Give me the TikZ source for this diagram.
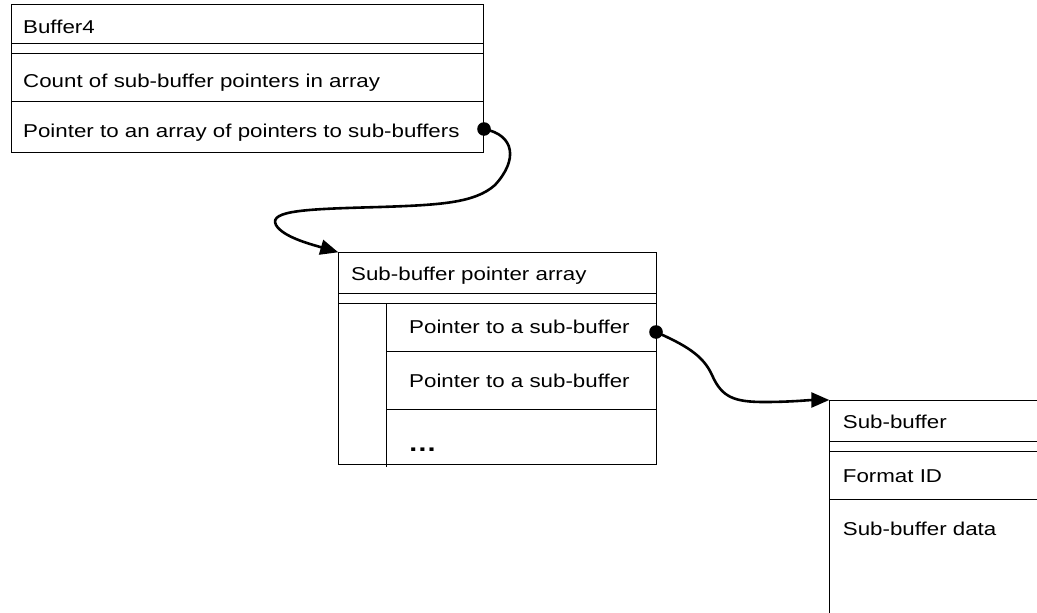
\documentclass[tikz,border=0pt]{standalone}
\usepackage{fontspec}
\newfontfamily\lab[FakeStretch=1.2]{Liberation Sans}
\usetikzlibrary{arrows.meta}
\begin{document}
\begin{tikzpicture}[x=1pt,y=-1pt,
  cell/.style={draw, line width=1pt, rectangle, inner sep=0pt, outer sep=0pt, anchor=north west},
  txt/.style={anchor=base west, inner sep=0pt, font=\lab\fontsize{18.6}{22}\selectfont},
  conn/.style={line width=2.6pt},
  tip/.style={-{Triangle[length=18pt,width=15pt]}}]
\useasboundingbox (0,0) rectangle (1037,613);
\clip (0,0) rectangle (1037,613);
% Box 1
\node[cell, minimum width=472pt, minimum height=39pt] (b1h) at (11,4) {};
\node[cell, minimum width=472pt, minimum height=10pt] (b1g) at (11,43) {};
\node[cell, minimum width=472pt, minimum height=48pt] (b1r1) at (11,53) {};
\node[cell, minimum width=472pt, minimum height=51pt] (b1r2) at (11,101) {};
\node[txt] (t1h) at (23,33.3) {Buffer4};
\node[txt] (t1r1) at (23,87) {Count of sub-buffer pointers in array};
\node[txt] (t1r2) at (23,137) {Pointer to an array of pointers to sub-buffers};
% Box 2
\node[cell, minimum width=317.7pt, minimum height=41.4pt] (b2h) at (338.3,252.3) {};
\node[cell, minimum width=317.7pt, minimum height=9.3pt] (b2g) at (338.3,293.7) {};
\node[cell, minimum width=48.4pt, minimum height=161.3pt] (b2c) at (338.3,303) {};
\node[cell, minimum width=269.3pt, minimum height=48pt] (b2r1) at (386.7,303) {};
\node[cell, minimum width=269.3pt, minimum height=58.3pt] (b2r2) at (386.7,351) {};
\node[cell, minimum width=269.3pt, minimum height=55pt] (b2r3) at (386.7,409.3) {};
\draw[line width=1pt] (b2c.south east) -- ++(0,3);
\node[txt] (t2h) at (351,280) {Sub-buffer pointer array};
\node[txt] (t2r1) at (409,333.3) {Pointer to a sub-buffer};
\node[txt] (t2r2) at (409,387.7) {Pointer to a sub-buffer};
\node[txt, font=\lab\bfseries\fontsize{24}{26}\selectfont] (t2r3) at (408,451.7) {…};
% Box 3
\node[cell, minimum width=230pt, minimum height=41.7pt] (b3h) at (829.3,400) {};
\node[cell, minimum width=230pt, minimum height=9.3pt] (b3g) at (829.3,441.7) {};
\node[cell, minimum width=230pt, minimum height=48pt] (b3r1) at (829.3,451) {};
\node[cell, minimum width=230pt, minimum height=150pt] (b3r2) at (829.3,499) {};
\node[txt] (t3h) at (842.7,428.3) {Sub-buffer};
\node[txt] (t3r1) at (842.7,482.3) {Format ID};
\node[txt] (t3r2) at (842.7,535.7) {Sub-buffer data};
% Connectors
\coordinate (p1) at ([shift={(1,2.5)}]b1r2.east);
\coordinate (p2) at ([shift={(0,5)}]b2r1.east);
\fill (p1) circle (6.8);
\fill (p2) circle (6.8);
\draw[conn, tip] (p1) .. controls (515,135) and (518,160) .. (495,185)
  .. controls (475,203) and (440,205) .. (380,207)
  .. controls (310,209) and (268,210) .. (276,225)
  .. controls (283,237) and (310,244) .. (b2h.north west);
\draw[conn, tip] (p2) .. controls (685,345) and (703,355) .. (712,375)
  .. controls (722,398) and (735,402) .. (765,402)
  .. controls (790,402) and (810,400) .. (b3h.north west);
\end{tikzpicture}
\end{document}
